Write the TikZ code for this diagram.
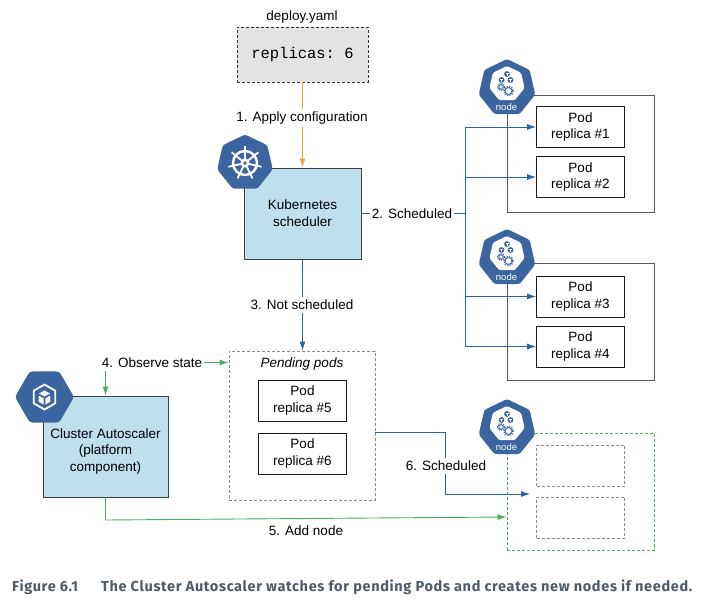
\documentclass[tikz,border=0pt]{standalone}
\usepackage{fontspec}
\setmainfont{Liberation Sans}
\setmonofont{Liberation Mono}
\newfontfamily\captionfont[LetterSpace=4.6]{Fira Sans}
\usetikzlibrary{positioning, shapes.geometric, arrows.meta}

\definecolor{kubeblue}{HTML}{3A659F}
\definecolor{lineblue}{HTML}{2A659F}
\definecolor{lineorange}{HTML}{F0A23C}
\definecolor{linegreen}{HTML}{4CAF5A}
\definecolor{boxblue}{HTML}{BDE0EC}
\definecolor{boxgray}{HTML}{E3E3E3}
\definecolor{dashgray}{HTML}{8A8A8A}
\definecolor{captiongray}{HTML}{4F5B66}

\tikzset{
    lbl/.style={font=\fontsize{13.5}{16.7}\selectfont, align=center, inner sep=1pt},
    gap/.style={lbl, fill=white, inner ysep=3pt, inner xsep=2pt},
    shortdash/.style={dash pattern=on 3pt off 2pt},
    comp/.style={rectangle, draw=black!75, line width=1pt, fill=boxblue, lbl},
    podbox/.style={rectangle, draw=black!90, line width=0.8pt, fill=white, minimum width=88pt, minimum height=41pt, lbl},
    emptybox/.style={rectangle, draw=dashgray, shortdash, line width=0.8pt, minimum width=88pt, minimum height=41pt},
    nodebox/.style={rectangle, draw=black!65, line width=1pt, minimum width=147pt, minimum height=117pt},
    hept/.style={regular polygon, regular polygon sides=7, fill=kubeblue, rounded corners=2.5pt, minimum size=58pt, inner sep=0pt},
    bluearr/.style={draw=lineblue, line width=0.9pt, -{Latex[length=9pt, width=6pt]}},
    blueline/.style={draw=lineblue, line width=0.9pt},
    greenarr/.style={draw=linegreen, line width=0.9pt, -{Latex[length=9pt, width=6pt]}},
    pics/nodeicon/.style={code={
        \node[hept] (-bg) at (0, 0) {};
        \node[regular polygon, regular polygon sides=7, fill=white, rounded corners=1.5pt, minimum size=36pt, inner sep=0pt] (-inner) at (0, -4) {};
        \foreach \cx/\cy in {0/-14, -5.5/-8, 3.5/-8} {
            \fill[kubeblue] (\cx, \cy) circle (2.9);
            \draw[white, line width=0.5pt] (\cx-1.5, \cy-1) -- (\cx+1.5, \cy-1) (\cx, \cy-1) -- (\cx, \cy+1.8);
        }
        \draw[kubeblue, line width=0.8pt] (-6, -1) circle (2.2);
        \draw[kubeblue, line width=1.3pt, dash pattern=on 1pt off 1pt] (-6, -1) circle (3.4);
        \draw[kubeblue, line width=0.8pt] (1.5, 3) circle (3.4);
        \draw[kubeblue, line width=1.4pt, dash pattern=on 1.2pt off 1.2pt] (1.5, 3) circle (4.6);
        \node[text=white, inner sep=0pt, font=\fontsize{9.5}{9.5}\selectfont] (-word) at (-0.5, 19) {node};
    }}
}

\begin{document}
\begin{tikzpicture}[x=1pt, y=-1pt]
    \useasboundingbox (0, 0) rectangle (705, 600);

    % worker nodes
    \node[nodebox] (node1) at (580.5, 153.5) {};
    \node[nodebox] (node2) at (580.5, 322) {};
    \node[nodebox, draw=linegreen, shortdash] (node3) at (580.5, 491.5) {};

    % config and scheduler
    \node[lbl] (yamlname) at (302, 17) {deploy.yaml};
    \node[rectangle, draw=black!80, shortdash, line width=0.8pt, fill=boxgray, minimum width=131pt, minimum height=55pt, font=\ttfamily\fontsize{15.5}{18}\selectfont] (yaml) at (302.5, 54.5) {replicas: 6};
    \node[comp, minimum width=117pt, minimum height=91pt] (kube) at (302.5, 213.5) {Kubernetes\\scheduler};

    % pending pods
    \node[rectangle, draw=dashgray, shortdash, line width=0.8pt, minimum width=146pt, minimum height=149pt] (pending) at (302, 425.5) {};
    \node[lbl, font=\itshape\fontsize{13.5}{16.7}\selectfont] (pendingname) at (302, 364) {Pending pods};
    \node[comp, minimum width=125pt, minimum height=101pt] (scaler) at (105.5, 446.5) {};
    \node[lbl] (scalername) at (105.5, 451.5) {Cluster Autoscaler\\(platform\\component)};

    % pods
    \node[podbox] (pod1) at (580.5, 127) {Pod\\replica \#1};
    \node[podbox] (pod2) at (580.5, 177) {Pod\\replica \#2};
    \node[podbox] (pod3) at (580.5, 296.5) {Pod\\replica \#3};
    \node[podbox] (pod4) at (580.5, 346.5) {Pod\\replica \#4};
    \node[podbox] (pod5) at (302.5, 400.5) {Pod\\replica \#5};
    \node[podbox] (pod6) at (302.5, 453.5) {Pod\\replica \#6};
    \node[emptybox] (pod7) at (580.5, 465.5) {};
    \node[emptybox] (pod8) at (580.5, 517.5) {};

    % connectors
    \coordinate (trunk) at (465, 213.5);
    \draw[blueline] (kube.east) -- (trunk);
    \draw[blueline] (trunk |- pod1) -- (trunk |- pod4);
    \foreach \p in {pod1, pod2, pod3, pod4} {
        \draw[bluearr] (trunk |- \p) -- (\p.west);
    }
    \node[gap] (step2) at (412, 213.5) {2. Scheduled};

    \draw[draw=lineorange, line width=0.9pt, -{Latex[length=9pt, width=6pt]}] (yaml) -- (kube.north -| yaml);
    \node[gap] (step1) at (302, 118) {1. Apply configuration};

    \draw[bluearr] (kube.south) -- (kube.south |- pending.north);
    \node[gap] (step3) at (302, 305) {3. Not scheduled};

    \coordinate (corner4) at (scaler.north |- 0, 362.5);
    \draw[greenarr] (corner4) -- (scaler.north);
    \draw[greenarr] (corner4) -- (corner4 -| pending.west);
    \node[gap, inner ysep=4pt] (step4) at (152, 362.5) {4. Observe state};

    \coordinate (corner5) at (105.5, 520);
    \draw[greenarr] (scaler.south) -- (corner5) -- (node3.west |- 0, 517);
    \node[gap] (step5) at (306, 531) {5. Add node};

    \coordinate (corner6a) at (445, 432);
    \coordinate (corner6b) at (445, 494);
    \draw[bluearr] (pending.east |- corner6a) -- (corner6a) -- (corner6b) -- (530, 494);
    \node[gap] (step6) at (446, 466) {6. Scheduled};

    % badges
    \pic (badge1) at (507, 88) {nodeicon};
    \pic (badge2) at (507, 258) {nodeicon};
    \pic (badge3) at (507, 428) {nodeicon};

    \node[hept, minimum size=57pt] (kubebadge) at (245, 163) {};
    \draw[white, line width=2.4pt] (kubebadge.center) circle (12);
    \foreach \i in {0,...,6} {
        \draw[white, line width=1.8pt] (kubebadge.center) -- ++(-90+\i*51.43:17);
    }
    \fill[white] (kubebadge.center) circle (4.5);
    \fill[kubeblue] (kubebadge.center) circle (1.8);

    \node[regular polygon, regular polygon sides=6, fill=kubeblue, rounded corners=3pt, minimum size=59pt, inner sep=0pt] (scalerbadge) at (44.5, 397) {};
    \node[regular polygon, regular polygon sides=6, shape border rotate=30, draw=white, line width=1.8pt, minimum size=25pt, inner sep=0pt] (scalerhex) at (scalerbadge.center) {};
    \fill[white] (scalerbadge.center) ++(0, -6.5) -- ++(5.5, 3) -- ++(-5.5, 3) -- ++(-5.5, -3) -- cycle;
    \fill[white] (scalerbadge.center) ++(-5.8, -1.5) -- ++(5, 2.9) -- ++(0, 6.2) -- ++(-5, -2.9) -- cycle;
    \fill[white] (scalerbadge.center) ++(5.8, -1.5) -- ++(-5, 2.9) -- ++(0, 6.2) -- ++(5, -2.9) -- cycle;

    % caption
    \node[anchor=west, inner sep=0pt, text=captiongray, font=\captionfont\bfseries\fontsize{14.5}{16}\selectfont] (caption) at (12, 587) {Figure 6.1\hspace{23pt}The Cluster Autoscaler watches for pending Pods and creates new nodes if needed.};
\end{tikzpicture}
\end{document}
